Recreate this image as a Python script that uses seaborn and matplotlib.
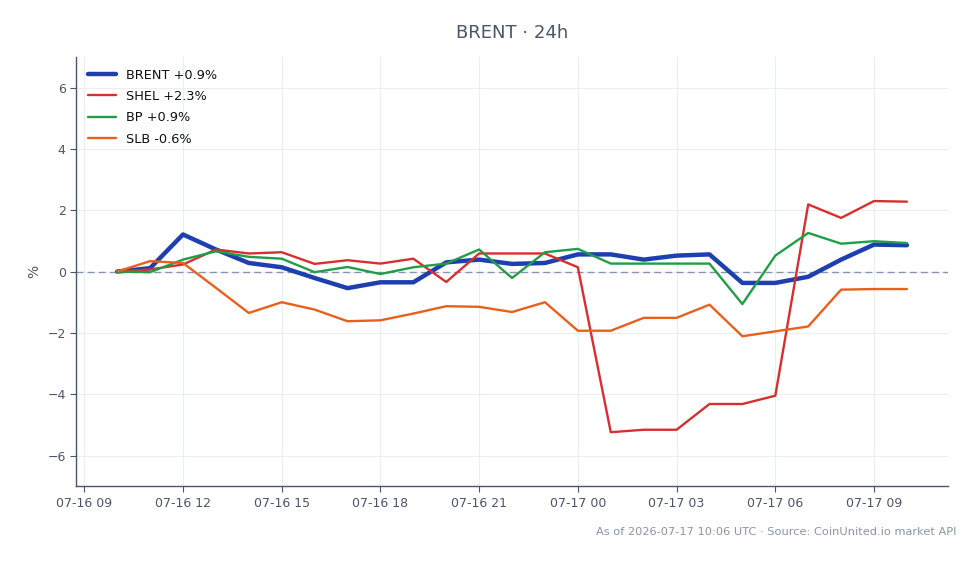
import numpy as np
import pandas as pd
import matplotlib
matplotlib.use("Agg")
import matplotlib.pyplot as plt
import matplotlib.dates as mdates
import seaborn as sns

hours = pd.date_range("2026-07-16 10:00", periods=25, freq="h")

brent = [0, 0.11, 1.21, 0.72, 0.28, 0.14, -0.21, -0.54, -0.35, -0.35, 0.30, 0.39, 0.25,
         0.28, 0.56, 0.56, 0.39, 0.52, 0.56, -0.37, -0.37, -0.17, 0.39, 0.88, 0.86]
shel = [0, 0.07, 0.23, 0.72, 0.59, 0.63, 0.25, 0.37, 0.26, 0.42, -0.34, 0.59, 0.59,
        0.59, 0.14, -5.24, -5.16, -5.16, -4.32, -4.32, -4.05, 2.19, 1.75, 2.30, 2.28]
bp = [0, -0.02, 0.39, 0.66, 0.48, 0.42, -0.02, 0.15, -0.08, 0.14, 0.26, 0.72, -0.21,
      0.63, 0.74, 0.26, 0.26, 0.26, 0.26, -1.06, 0.52, 1.26, 0.91, 0.99, 0.93]
slb = [0, 0.34, 0.28, -0.53, -1.35, -1.0, -1.24, -1.62, -1.59, -1.37, -1.13, -1.15, -1.32,
       -1.0, -1.93, -1.93, -1.51, -1.51, -1.08, -2.11, -1.95, -1.79, -0.59, -0.57, -0.57]

series = {"BRENT": brent, "SHEL": shel, "BP": bp, "SLB": slb}
colors = {"BRENT": "#1e40af", "SHEL": "#d62f2f", "BP": "#1f9e47", "SLB": "#e8601c"}

rows = []
for name, vals in series.items():
    label = f"{name} {vals[-1]:+.1f}%"
    for t, v in zip(hours, vals):
        rows.append({"time": t, "pct": v, "series": label})
df = pd.DataFrame(rows)

sns.set_style("whitegrid", {"grid.color": "#ebedf0"})
plt.rcParams["font.family"] = ["DejaVu Sans"]

fig = plt.figure(figsize=(9.8, 5.64), dpi=100)
ax = fig.add_axes([0.0776, 0.138, 0.8898, 0.761])

palette = {f"{k} {v[-1]:+.1f}%": colors[k] for k, v in series.items()}
sizes = {f"{k} {v[-1]:+.1f}%": (3.2 if k == "BRENT" else 1.7) for k, v in series.items()}
sns.lineplot(data=df, x="time", y="pct", hue="series", size="series",
             palette=palette, sizes=sizes, ax=ax)

ax.axhline(0, color="#8a93b0", lw=1, ls=(0, (5, 3)), zorder=1.5)
ax.set_ylim(-7, 7)
ax.set_yticks([-6, -4, -2, 0, 2, 4, 6])
ax.set_yticklabels(["−6", "−4", "−2", "0", "2", "4", "6"])
ax.xaxis.set_major_locator(mdates.HourLocator(byhour=range(0, 24, 3)))
ax.xaxis.set_major_formatter(mdates.DateFormatter("%m-%d %H"))
ax.set_xlim(pd.Timestamp("2026-07-16 08:45"), pd.Timestamp("2026-07-17 11:15"))

ax.set_xlabel("")
ax.set_ylabel("%", color="#4a5568", fontsize=10)
ax.tick_params(colors="#4a5568", labelsize=9, length=4, width=0.8)
ax.tick_params(axis="both", which="major", bottom=True, left=True)
for s in ["top", "right"]:
    ax.spines[s].set_visible(False)
for s in ["left", "bottom"]:
    ax.spines[s].set_color("#4a5568")
    ax.spines[s].set_linewidth(1)

ax.set_title("BRENT · 24h", color="#4a5568", fontsize=13, pad=14)
leg = ax.legend(loc="upper left", frameon=False, fontsize=9.3, handlelength=2.2,
                labelspacing=0.65)
for t in leg.get_texts():
    t.set_color("#111111")

fig.text(0.976, 0.047, "As of 2026-07-17 10:06 UTC · Source: CoinUnited.io market API",
         ha="right", va="bottom", fontsize=8.2, color="#8a94a6")

fig.savefig("out.png", dpi=100)
